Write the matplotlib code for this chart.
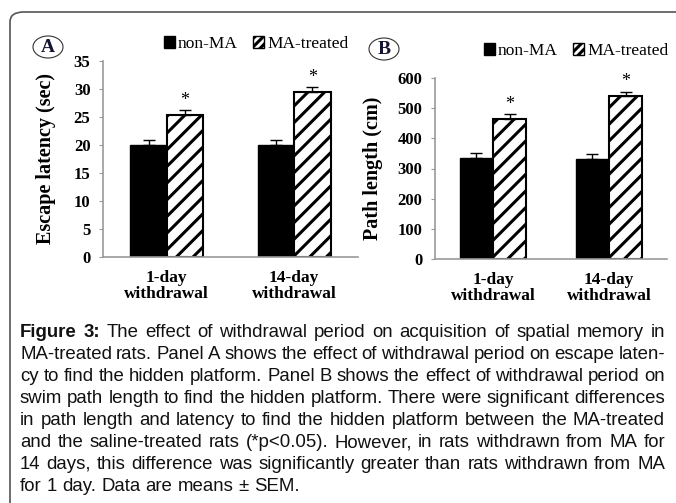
import matplotlib
matplotlib.use("Agg")
import matplotlib.pyplot as plt
from matplotlib.patches import FancyBboxPatch, Ellipse, Patch
from matplotlib import font_manager
import numpy as np

# data
groups = ["1-day\nwithdrawal", "14-day\nwithdrawal"]
series = ["non-MA", "MA-treated"]
latency = [20.0, 25.4]
latency_14 = [20.0, 29.5]
latency_err = [0.9, 0.8]
latency_err_14 = [0.9, 0.9]
path = [335, 463]
path_14 = [331, 539]
path_err = [18, 17]
path_err_14 = [16, 16]
yticks_a = [0, 5, 10, 15, 20, 25, 30, 35]
yticks_b = [0, 100, 200, 300, 400, 500, 600]

caption = [
    "Figure 3: The effect of withdrawal period on acquisition of spatial memory in",
    "MA-treated rats. Panel A shows the effect of withdrawal period on escape laten-",
    "cy to find the hidden platform. Panel B shows the effect of withdrawal period on",
    "swim path length to find the hidden platform. There were significant differences",
    "in path length and latency to find the hidden platform between the MA-treated",
    "and the saline-treated rats (*p<0.05). However, in rats withdrawn from MA for",
    "14 days, this difference was significantly greater than rats withdrawn from MA",
    "for 1 day. Data are means \u00b1 SEM.",
]

names = {f.name for f in font_manager.fontManager.ttflist}
serif = "Liberation Serif" if "Liberation Serif" in names else "DejaVu Serif"
sans = "Liberation Sans Narrow" if "Liberation Sans Narrow" in names else "Liberation Sans"

plt.rcParams["font.family"] = serif
plt.rcParams["hatch.linewidth"] = 2.2
W, H = 676, 503
fig = plt.figure(figsize=(W / 100, H / 100), dpi=100)

# rounded frame
fig.patches.append(FancyBboxPatch((10 / W, -0.2), 1.2, 1 - 12 / H + 0.2,
                                  boxstyle="round,pad=0,rounding_size=0.02",
                                  transform=fig.transFigure, fill=False,
                                  edgecolor="#555555", linewidth=1.2))

axA = fig.add_axes([103 / W, 1 - 257 / H, 255 / W, 196 / H])
axB = fig.add_axes([435 / W, 1 - 259 / H, 232 / W, 181 / H])


def panel(ax, first, second, err1, err2, yt, ylabel, star_off):
    x = np.arange(2)
    w = 0.285
    non = [first[0], second[0]]
    ma = [first[1], second[1]]
    enon = [err1[0], err2[0]]
    ema = [err1[1], err2[1]]
    ax.bar(x - w / 2, non, w, color="black", edgecolor="black", linewidth=1)
    ax.bar(x + w / 2, ma, w, color="white", edgecolor="black", linewidth=1.5,
           hatch="//")
    ax.errorbar(x - w / 2, non, yerr=[[0, 0], enon], fmt="none", ecolor="black",
                elinewidth=1, capsize=4, capthick=1)
    ax.errorbar(x + w / 2, ma, yerr=[[0, 0], ema], fmt="none", ecolor="black",
                elinewidth=1, capsize=4, capthick=1)
    for xi, v, e in zip(x, ma, ema):
        ax.text(xi + w / 2, v + e + star_off, "*", ha="center", va="bottom",
                fontsize=13)
    ax.set_xlim(-0.5, 1.5)
    ax.set_ylim(yt[0], yt[-1])
    ax.set_yticks(yt)
    ax.set_xticks(x)
    ax.set_xticklabels(groups, fontweight="bold", fontsize=12.5, linespacing=1.0)
    ax.tick_params(axis="x", length=0, pad=9)
    ax.tick_params(axis="y", length=3, color="#9a9a9a", pad=6, labelsize=12)
    for lab in ax.get_yticklabels():
        lab.set_fontweight("bold")
    for s in ["top", "right"]:
        ax.spines[s].set_visible(False)
    for s in ["left", "bottom"]:
        ax.spines[s].set_color("#9a9a9a")
        ax.spines[s].set_linewidth(1.2)
    ax.set_ylabel(ylabel, fontweight="bold", fontsize=14.5)


panel(axA, latency, latency_14, latency_err, latency_err_14, yticks_a,
      "Escape latency (sec)", 0.2)
panel(axB, path, path_14, path_err, path_err_14, yticks_b,
      "Path length (cm)", 4)
axA.yaxis.set_label_coords(-0.185, 0.5)
axB.yaxis.set_label_coords(-0.225, 0.5)

handles = [Patch(facecolor="black", edgecolor="black"),
           Patch(facecolor="white", edgecolor="black", hatch="////")]
for ax, anchor in [(axA, (256 / W, 1 - 44 / H)), (axB, (576 / W, 1 - 51 / H))]:
    fig.legend(handles, series, loc="center", bbox_to_anchor=anchor, ncol=2,
               frameon=False, handlelength=0.65, handleheight=0.65,
               handletextpad=0.15, columnspacing=0.9, fontsize=12.5,
               borderaxespad=0, borderpad=0)

# circled panel letters
for cx, cy, letter in [(48, 47, "A"), (384, 49, "B")]:
    fig.patches.append(Ellipse((cx / W, 1 - cy / H), 30 / W, 22 / H,
                               transform=fig.transFigure, fill=False,
                               edgecolor="#333333", linewidth=0.8))
    fig.text(cx / W, 1 - cy / H, letter, ha="center", va="center",
             fontsize=14, fontweight="bold", color="#141432")

# justified caption
fig.canvas.draw()
renderer = fig.canvas.get_renderer()
x0, x1 = 20, 665
size = 14.5


def words_of(i, line):
    out = []
    for j, wd in enumerate(line.split(" ")):
        bold = (i == 0 and j < 2)
        out.append((wd, "bold" if bold else "normal"))
    return out


def measure(wd, weight, fs):
    t = fig.text(0, 0, wd, fontsize=fs, fontweight=weight, family=sans)
    bb = t.get_window_extent(renderer)
    t.remove()
    return bb.width


sp = measure("a a", "normal", size) - 2 * measure("a", "normal", size)
widest = 0
for i, line in enumerate(caption[:-1]):
    ww = sum(measure(wd, wt, size) for wd, wt in words_of(i, line))
    widest = max(widest, ww + sp * 0.8 * (len(line.split(" ")) - 1))
if widest > x1 - x0:
    size = size * (x1 - x0) / widest

for i, line in enumerate(caption):
    ws = words_of(i, line)
    widths = [measure(wd, wt, size) for wd, wt in ws]
    if i < len(caption) - 1:
        gap = (x1 - x0 - sum(widths)) / (len(ws) - 1)
    else:
        gap = measure("a a", "normal", size) - 2 * measure("a", "normal", size)
    xp = x0
    yb = 337 + 22 * i
    for (wd, wt), wdt in zip(ws, widths):
        fig.text(xp / W, 1 - yb / H, wd, fontsize=size, fontweight=wt,
                 family=sans, va="baseline", ha="left", color="#111111")
        xp += wdt + gap

fig.savefig("out.png", dpi=100)
